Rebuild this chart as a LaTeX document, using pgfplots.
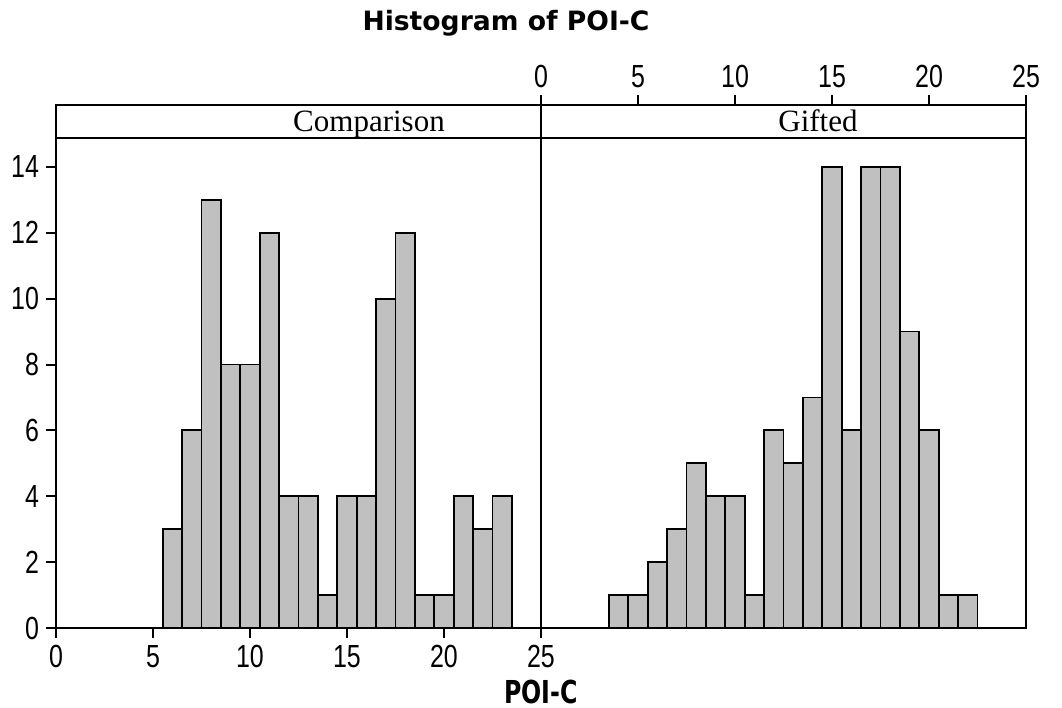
\documentclass[border=0pt]{standalone}
\usepackage{fontspec}
\usepackage{pgfplots}
\pgfplotsset{compat=1.18}
\setmainfont{Liberation Serif}
\newfontfamily\tickfont[FakeStretch=0.78]{Liberation Sans}
\newfontfamily\headfont{DejaVu Sans}
\newfontfamily\labfont[FakeStretch=0.75]{DejaVu Sans}
\definecolor{barfill}{RGB}{192,192,192}

% counts per bin of width 1 (bin centres 4..23)
\pgfplotstableread{
x    comp gift
3.5  0    1
4.5  0    1
5.5  3    2
6.5  6    3
7.5  13   5
8.5  8    4
9.5  8    4
10.5 12   1
11.5 4    6
12.5 4    5
13.5 1    7
14.5 4    14
15.5 4    6
16.5 10   14
17.5 12   14
18.5 1    9
19.5 1    6
20.5 4    1
21.5 3    1
22.5 4    0
23.5 0    0
}\poic

\pgfplotsset{
  panel/.style={
    scale only axis,
    width=242.5bp, height=261.5bp,
    xmin=0, xmax=25, ymin=0, ymax=15.88,
    clip=false,
    axis line style={line width=1bp},
    tick style={line width=1bp, black},
    major tick length=5bp,
    tick align=outside,
    xtick={0,5,...,25},
    /pgf/number format/assume math mode=true,
    ticklabel style={font=\tickfont\fontsize{16bp}{16bp}\selectfont},
  },
}

\begin{document}
\begin{tikzpicture}
\path[use as bounding box] (0,0) rectangle (531bp,354bp);

\begin{axis}[panel, at={(28bp,40bp)}, anchor=south west,
  xtick pos=left, ytick pos=left,
  ytick={0,2,...,14}]
\addplot[ybar interval, fill=barfill, draw=black, line width=0.9bp] table[x=x, y=comp] {\poic};
\end{axis}

\begin{axis}[panel, at={(270.5bp,40bp)}, anchor=south west,
  xtick pos=right, xticklabel pos=right,
  ytick=\empty]
\addplot[ybar interval, fill=barfill, draw=black, line width=0.9bp] table[x=x, y=gift] {\poic};
\end{axis}

% strip under the top edge
\draw[line width=1bp] (28bp,285bp) -- (513bp,285bp);
\node[anchor=base, font=\fontsize{15.5bp}{16bp}\selectfont] at (184.5bp,288bp) {Comparison};
\node[anchor=base, font=\fontsize{15.5bp}{16bp}\selectfont] at (409bp,288bp) {Gifted};

\node[font=\headfont\bfseries\fontsize{13.3bp}{14bp}\selectfont] at (253bp,342.5bp) {Histogram of POI-C};
\node[font=\labfont\bfseries\fontsize{15.8bp}{16bp}\selectfont] at (270.5bp,8bp) {POI-C};
\end{tikzpicture}
\end{document}
